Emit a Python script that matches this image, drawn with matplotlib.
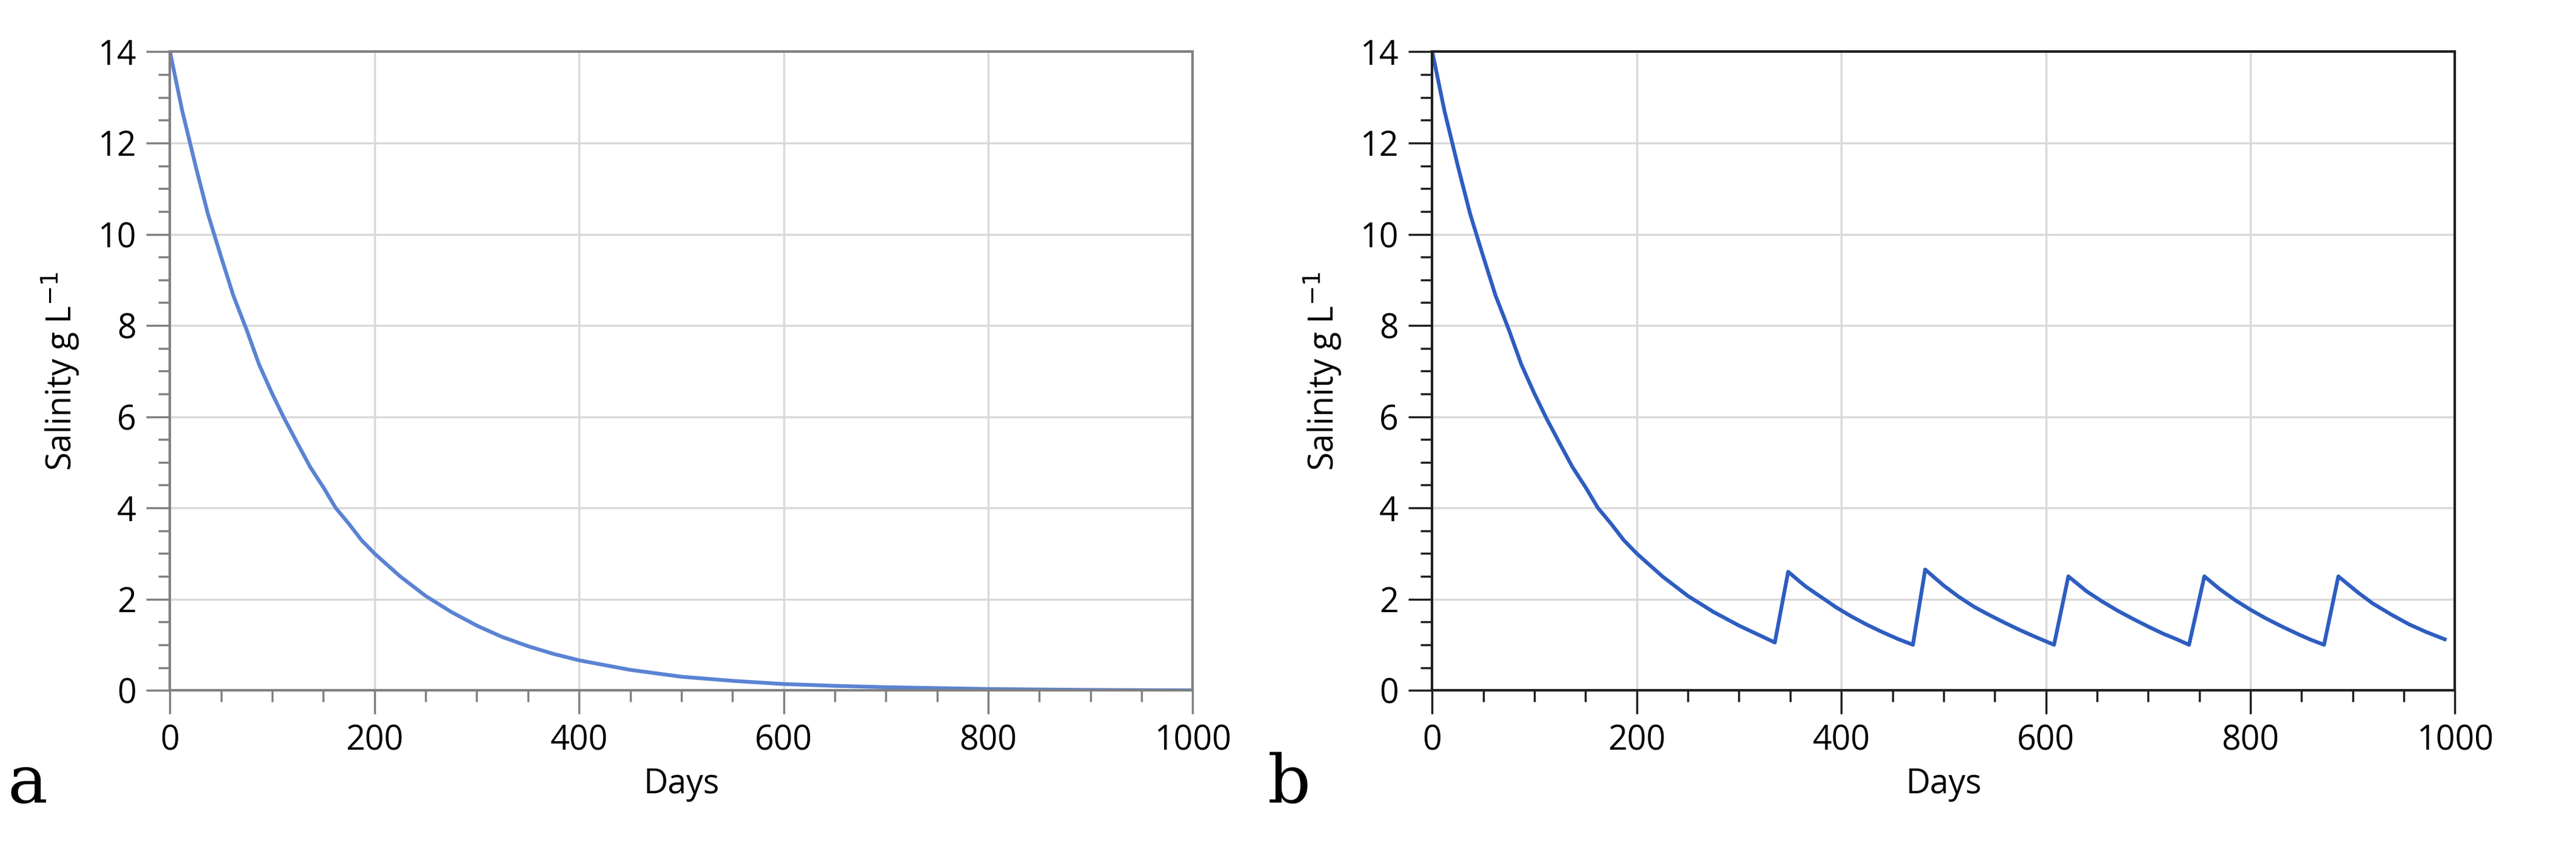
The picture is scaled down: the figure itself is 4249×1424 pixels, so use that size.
import matplotlib
matplotlib.use("Agg")
import matplotlib.pyplot as plt
from matplotlib.ticker import MultipleLocator

days_a = [0,12,25,37,50,62,75,87,100,112,125,137,150,162,175,187,200,225,250,275,300,325,350,375,400,450,500,550,600,650,700,800,900,1000]
sal_a = [14.0,12.7,11.5,10.45,9.5,8.65,7.9,7.15,6.5,5.95,5.4,4.9,4.45,4.0,3.65,3.3,3.0,2.5,2.07,1.72,1.42,1.17,0.97,0.8,0.66,0.45,0.3,0.21,0.14,0.1,0.07,0.03,0.01,0.0]

days_b = [0,12,25,37,50,62,75,87,100,112,125,137,150,162,175,187,200,225,250,275,300,318,335,348,365,380,395,410,425,440,455,470,482,500,515,530,545,560,575,590,608,622,640,655,670,685,700,715,728,740,755,770,785,800,815,830,845,858,872,886,905,920,938,955,972,990]
sal_b = [14.0,12.7,11.5,10.45,9.5,8.65,7.9,7.15,6.5,5.95,5.4,4.9,4.45,4.0,3.65,3.3,3.0,2.5,2.07,1.72,1.42,1.23,1.05,2.6,2.28,2.05,1.82,1.62,1.44,1.28,1.13,1.0,2.65,2.3,2.05,1.83,1.65,1.48,1.32,1.17,1.0,2.5,2.17,1.95,1.75,1.57,1.4,1.24,1.12,1.0,2.5,2.22,1.98,1.77,1.58,1.41,1.25,1.12,1.0,2.5,2.15,1.9,1.66,1.45,1.28,1.12]

xticks = [0,200,400,600,800,1000]
yticks = [0,2,4,6,8,10,12,14]

plt.rcParams['font.family'] = ['Open Sans', 'DejaVu Sans']
fig = plt.figure(figsize=(42.49, 14.24), dpi=100)
ax_a = fig.add_axes([0.066, 0.20, 0.397, 0.74])
ax_b = fig.add_axes([0.556, 0.20, 0.397, 0.74])

for ax, d, s, col, spc in [(ax_a, days_a, sal_a, '#5B83D3', '#808080'), (ax_b, days_b, sal_b, '#2E5DC0', '#202020')]:
    ax.plot(d, s, color=col, lw=4.5)
    ax.set_xlim(0, 1000)
    ax.set_ylim(0, 14)
    ax.set_xticks(xticks)
    ax.set_yticks(yticks)
    ax.xaxis.set_minor_locator(MultipleLocator(50))
    ax.yaxis.set_minor_locator(MultipleLocator(0.5))
    ax.grid(True, which='major', color='#D9D9D9', lw=2.5)
    ax.set_axisbelow(True)
    for sp in ax.spines.values():
        sp.set_color(spc)
        sp.set_linewidth(3)
    ax.tick_params(which='major', direction='out', length=28, width=2.5, labelsize=40, color=spc, pad=12)
    ax.tick_params(which='minor', direction='out', length=14, width=2.5, color=spc)
    ax.set_xlabel('Days', fontsize=40, labelpad=10)
    ax.set_ylabel('Salinity g L$^{-1}$', fontsize=40, labelpad=20)

fig.text(0.003, 0.07, 'a', fontsize=80, family='DejaVu Serif')
fig.text(0.492, 0.07, 'b', fontsize=80, family='DejaVu Serif')
fig.savefig('out.png', dpi=100)
